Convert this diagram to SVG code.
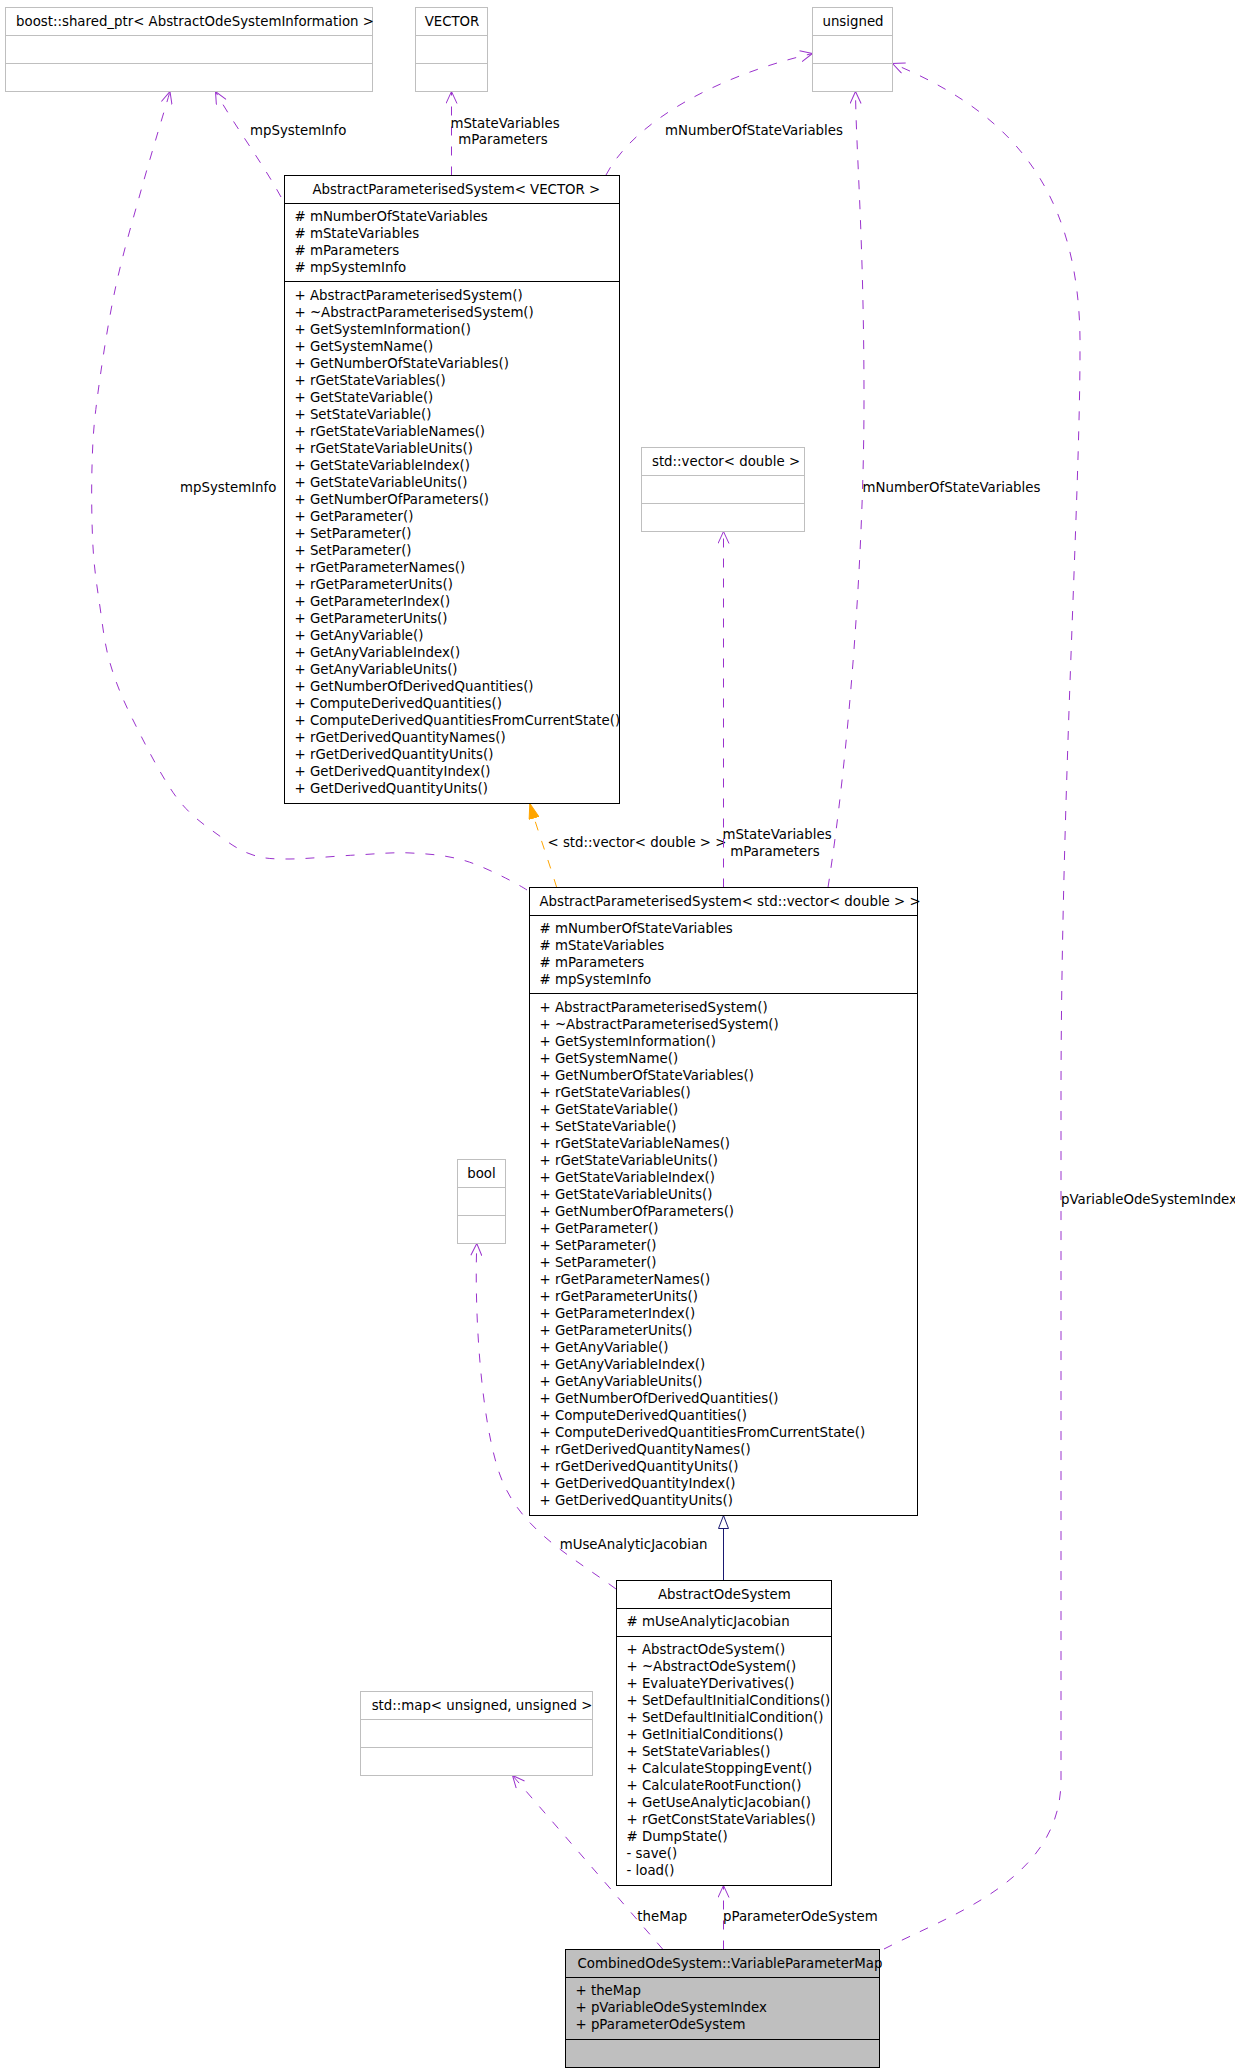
<svg xmlns="http://www.w3.org/2000/svg" width="1235" height="2072" viewBox="0 0 1235 2072">
<style>
.t{font-family:"DejaVu Sans","Liberation Sans",sans-serif;font-size:13.33px;fill:#000}
.m{text-anchor:middle}
.box{fill:#fff;stroke:#000;stroke-width:1}
.ext{fill:#fff;stroke:#bfbfbf;stroke-width:1}
.sel{fill:#bfbfbf;stroke:#000;stroke-width:1}
.dl{stroke:#000;stroke-width:1}
.de{stroke:#bfbfbf;stroke-width:1}
.dep{fill:none;stroke:#9a32cd;stroke-width:1;stroke-dasharray:9 11;marker-end:url(#open)}
.tpl{fill:none;stroke:#ffa500;stroke-width:1;stroke-dasharray:9 11;marker-end:url(#filled)}
.inh{fill:none;stroke:#191970;stroke-width:1;marker-end:url(#hollow)}
</style>
<defs>
<marker id="open" viewBox="0 0 13 12" refX="12.5" refY="6" markerWidth="13" markerHeight="12" markerUnits="userSpaceOnUse" orient="auto">
<path d="M0.5,0.5 L12.5,6 L0.5,11.5" fill="none" stroke="#9a32cd" stroke-width="1"/>
</marker>
<marker id="filled" viewBox="0 0 16 11" refX="15.5" refY="5.5" markerWidth="16" markerHeight="11" markerUnits="userSpaceOnUse" orient="auto">
<path d="M0.5,0.5 L15.5,5.5 L0.5,10.5 Z" fill="#ffa500" stroke="#ffa500" stroke-width="1"/>
</marker>
<marker id="hollow" viewBox="0 0 14 11" refX="13.5" refY="5.5" markerWidth="14" markerHeight="11" markerUnits="userSpaceOnUse" orient="auto">
<path d="M0.5,0.5 L13.5,5.5 L0.5,10.5 Z" fill="#fff" stroke="#191970" stroke-width="1"/>
</marker>
</defs>
<rect width="1235" height="2072" fill="#fff"/>

<g id="connectors">
<!-- APS<VECTOR> -> boost : mpSystemInfo -->
<path class="dep" d="M281,197 C262,162 232,122 215.5,91.5"/>
<text class="t" x="250" y="134.5">mpSystemInfo</text>
<!-- APS<vector<double>> -> boost : mpSystemInfo -->
<path class="dep" d="M527,890 C518.5,884.3 485.7,867 466,861 C446.3,855 429.3,854 411,853 C392.7,852 376.3,854 356,855 C335.7,856 306.2,859 289,859 C271.8,859 264.3,858.7 253,855 C241.7,851.3 233.7,846.5 221,837 C208.3,827.5 191.7,817.5 177,798 C162.3,778.5 144.2,742.5 133,720 C121.8,697.5 115.5,681.8 110,663 C104.5,644.2 102.8,626.3 100,607 C97.2,587.7 94.3,570.3 93,547 C91.7,523.7 91.3,491.5 92,467 C92.7,442.5 93.2,429.5 97,400 C100.8,370.5 107.5,325.5 115,290 C122.5,254.5 132.8,220 142,187 C151.2,154 165.3,107.8 170,91.5"/>
<text class="t" x="180" y="492">mpSystemInfo</text>
<!-- APS<VECTOR> -> VECTOR -->
<path class="dep" d="M451.5,175.5 L451.5,91.5"/>
<text class="t m" x="505" y="127.5">mStateVariables</text>
<text class="t m" x="503" y="144">mParameters</text>
<!-- APS<VECTOR> -> unsigned -->
<path class="dep" d="M606,175 C635,120 720,75 812.5,53.5"/>
<text class="t" x="665" y="135">mNumberOfStateVariables</text>
<!-- template instance -->
<path class="tpl" d="M556.7,887.5 C549,862 538,832 529.8,803.5"/>
<text class="t" x="547.5" y="846.5">&lt; std::vector&lt; double &gt; &gt;</text>
<!-- APS<vector<double>> -> std::vector<double> -->
<path class="dep" d="M723.5,887.5 L723.5,531.5"/>
<text class="t m" x="777" y="839">mStateVariables</text>
<text class="t m" x="775" y="856">mParameters</text>
<!-- APS<vector<double>> -> unsigned -->
<path class="dep" d="M828,887.5 C848,760 864,560 864,400 C864,240 856,150 855.5,91.5"/>
<text class="t" x="862.5" y="491.5">mNumberOfStateVariables</text>
<!-- AbstractOdeSystem -> bool -->
<path class="dep" d="M616,1589 C570,1555 520,1530 500,1475 C482,1425 474,1320 476.8,1243.5"/>
<text class="t" x="559.7" y="1549">mUseAnalyticJacobian</text>
<!-- inheritance AbstractOdeSystem -> APS<vector<double>> -->
<path class="inh" d="M723.5,1580.5 L723.5,1515.5"/>
<!-- VPM -> std::map -->
<path class="dep" d="M663,1949.5 L512.5,1775.5"/>
<text class="t" x="637.3" y="1920.5">theMap</text>
<!-- VPM -> AbstractOdeSystem -->
<path class="dep" d="M723.5,1949.5 L723.5,1885.5"/>
<text class="t" x="723" y="1920.5">pParameterOdeSystem</text>
<!-- VPM -> unsigned -->
<path class="dep" d="M884,1949 C950,1915 1061,1880 1061,1780 L1061,1100 C1061,800 1080,500 1080,350 C1082,180 1000,108 892.5,63.5"/>
<text class="t" x="1061" y="1204">pVariableOdeSystemIndex</text>
</g>

<g id="node-boost">
<rect class="ext" x="5.5" y="7.5" width="367" height="84"/>
<line class="de" x1="5.5" y1="35.5" x2="372.5" y2="35.5"/>
<line class="de" x1="5.5" y1="63.5" x2="372.5" y2="63.5"/>
<text class="t m" x="195" y="25.5">boost::shared_ptr&lt; AbstractOdeSystemInformation &gt;</text>
</g>

<g id="node-VECTOR">
<rect class="ext" x="415.5" y="7.5" width="72" height="84"/>
<line class="de" x1="415.5" y1="35.5" x2="487.5" y2="35.5"/>
<line class="de" x1="415.5" y1="63.5" x2="487.5" y2="63.5"/>
<text class="t m" x="452" y="25.5">VECTOR</text>
</g>

<g id="node-unsigned">
<rect class="ext" x="812.5" y="7.5" width="80" height="84"/>
<line class="de" x1="812.5" y1="35.5" x2="892.5" y2="35.5"/>
<line class="de" x1="812.5" y1="63.5" x2="892.5" y2="63.5"/>
<text class="t m" x="853" y="25.5">unsigned</text>
</g>

<g id="node-APS-VECTOR">
<rect class="box" x="284.5" y="175.5" width="335" height="628"/>
<line class="dl" x1="284.5" y1="203.5" x2="619.5" y2="203.5"/>
<line class="dl" x1="284.5" y1="281.5" x2="619.5" y2="281.5"/>
<text class="t m" x="456.3" y="193.5">AbstractParameterisedSystem&lt; VECTOR &gt;</text>
<text class="t" x="294.5" y="221">
<tspan x="294.5" y="221"># mNumberOfStateVariables</tspan>
<tspan x="294.5" y="238"># mStateVariables</tspan>
<tspan x="294.5" y="255"># mParameters</tspan>
<tspan x="294.5" y="272"># mpSystemInfo</tspan>
</text>
<text class="t" x="294.5" y="300">
<tspan x="294.5" y="300">+ AbstractParameterisedSystem()</tspan>
<tspan x="294.5" y="317">+ ~AbstractParameterisedSystem()</tspan>
<tspan x="294.5" y="334">+ GetSystemInformation()</tspan>
<tspan x="294.5" y="351">+ GetSystemName()</tspan>
<tspan x="294.5" y="368">+ GetNumberOfStateVariables()</tspan>
<tspan x="294.5" y="385">+ rGetStateVariables()</tspan>
<tspan x="294.5" y="402">+ GetStateVariable()</tspan>
<tspan x="294.5" y="419">+ SetStateVariable()</tspan>
<tspan x="294.5" y="436">+ rGetStateVariableNames()</tspan>
<tspan x="294.5" y="453">+ rGetStateVariableUnits()</tspan>
<tspan x="294.5" y="470">+ GetStateVariableIndex()</tspan>
<tspan x="294.5" y="487">+ GetStateVariableUnits()</tspan>
<tspan x="294.5" y="504">+ GetNumberOfParameters()</tspan>
<tspan x="294.5" y="521">+ GetParameter()</tspan>
<tspan x="294.5" y="538">+ SetParameter()</tspan>
<tspan x="294.5" y="555">+ SetParameter()</tspan>
<tspan x="294.5" y="572">+ rGetParameterNames()</tspan>
<tspan x="294.5" y="589">+ rGetParameterUnits()</tspan>
<tspan x="294.5" y="606">+ GetParameterIndex()</tspan>
<tspan x="294.5" y="623">+ GetParameterUnits()</tspan>
<tspan x="294.5" y="640">+ GetAnyVariable()</tspan>
<tspan x="294.5" y="657">+ GetAnyVariableIndex()</tspan>
<tspan x="294.5" y="674">+ GetAnyVariableUnits()</tspan>
<tspan x="294.5" y="691">+ GetNumberOfDerivedQuantities()</tspan>
<tspan x="294.5" y="708">+ ComputeDerivedQuantities()</tspan>
<tspan x="294.5" y="725">+ ComputeDerivedQuantitiesFromCurrentState()</tspan>
<tspan x="294.5" y="742">+ rGetDerivedQuantityNames()</tspan>
<tspan x="294.5" y="759">+ rGetDerivedQuantityUnits()</tspan>
<tspan x="294.5" y="776">+ GetDerivedQuantityIndex()</tspan>
<tspan x="294.5" y="793">+ GetDerivedQuantityUnits()</tspan>
</text>
</g>

<g id="node-std-vector-double">
<rect class="ext" x="641.5" y="447.5" width="163" height="84"/>
<line class="de" x1="641.5" y1="475.5" x2="804.5" y2="475.5"/>
<line class="de" x1="641.5" y1="503.5" x2="804.5" y2="503.5"/>
<text class="t m" x="726" y="465.5">std::vector&lt; double &gt;</text>
</g>

<g id="node-APS-vector-double">
<rect class="box" x="529.5" y="887.5" width="388" height="628"/>
<line class="dl" x1="529.5" y1="915.5" x2="917.5" y2="915.5"/>
<line class="dl" x1="529.5" y1="993.5" x2="917.5" y2="993.5"/>
<text class="t m" x="730" y="905.5">AbstractParameterisedSystem&lt; std::vector&lt; double &gt; &gt;</text>
<text class="t" x="539.5" y="933">
<tspan x="539.5" y="933"># mNumberOfStateVariables</tspan>
<tspan x="539.5" y="950"># mStateVariables</tspan>
<tspan x="539.5" y="967"># mParameters</tspan>
<tspan x="539.5" y="984"># mpSystemInfo</tspan>
</text>
<text class="t" x="539.5" y="1012">
<tspan x="539.5" y="1012">+ AbstractParameterisedSystem()</tspan>
<tspan x="539.5" y="1029">+ ~AbstractParameterisedSystem()</tspan>
<tspan x="539.5" y="1046">+ GetSystemInformation()</tspan>
<tspan x="539.5" y="1063">+ GetSystemName()</tspan>
<tspan x="539.5" y="1080">+ GetNumberOfStateVariables()</tspan>
<tspan x="539.5" y="1097">+ rGetStateVariables()</tspan>
<tspan x="539.5" y="1114">+ GetStateVariable()</tspan>
<tspan x="539.5" y="1131">+ SetStateVariable()</tspan>
<tspan x="539.5" y="1148">+ rGetStateVariableNames()</tspan>
<tspan x="539.5" y="1165">+ rGetStateVariableUnits()</tspan>
<tspan x="539.5" y="1182">+ GetStateVariableIndex()</tspan>
<tspan x="539.5" y="1199">+ GetStateVariableUnits()</tspan>
<tspan x="539.5" y="1216">+ GetNumberOfParameters()</tspan>
<tspan x="539.5" y="1233">+ GetParameter()</tspan>
<tspan x="539.5" y="1250">+ SetParameter()</tspan>
<tspan x="539.5" y="1267">+ SetParameter()</tspan>
<tspan x="539.5" y="1284">+ rGetParameterNames()</tspan>
<tspan x="539.5" y="1301">+ rGetParameterUnits()</tspan>
<tspan x="539.5" y="1318">+ GetParameterIndex()</tspan>
<tspan x="539.5" y="1335">+ GetParameterUnits()</tspan>
<tspan x="539.5" y="1352">+ GetAnyVariable()</tspan>
<tspan x="539.5" y="1369">+ GetAnyVariableIndex()</tspan>
<tspan x="539.5" y="1386">+ GetAnyVariableUnits()</tspan>
<tspan x="539.5" y="1403">+ GetNumberOfDerivedQuantities()</tspan>
<tspan x="539.5" y="1420">+ ComputeDerivedQuantities()</tspan>
<tspan x="539.5" y="1437">+ ComputeDerivedQuantitiesFromCurrentState()</tspan>
<tspan x="539.5" y="1454">+ rGetDerivedQuantityNames()</tspan>
<tspan x="539.5" y="1471">+ rGetDerivedQuantityUnits()</tspan>
<tspan x="539.5" y="1488">+ GetDerivedQuantityIndex()</tspan>
<tspan x="539.5" y="1505">+ GetDerivedQuantityUnits()</tspan>
</text>
</g>

<g id="node-bool">
<rect class="ext" x="457.5" y="1159.5" width="48" height="84"/>
<line class="de" x1="457.5" y1="1187.5" x2="505.5" y2="1187.5"/>
<line class="de" x1="457.5" y1="1215.5" x2="505.5" y2="1215.5"/>
<text class="t m" x="481.5" y="1177.5">bool</text>
</g>

<g id="node-AbstractOdeSystem">
<rect class="box" x="616.5" y="1580.5" width="215" height="305"/>
<line class="dl" x1="616.5" y1="1608.5" x2="831.5" y2="1608.5"/>
<line class="dl" x1="616.5" y1="1636.5" x2="831.5" y2="1636.5"/>
<text class="t m" x="724.3" y="1598.5">AbstractOdeSystem</text>
<text class="t" x="626.5" y="1626"># mUseAnalyticJacobian</text>
<text class="t" x="626.5" y="1654">
<tspan x="626.5" y="1654">+ AbstractOdeSystem()</tspan>
<tspan x="626.5" y="1671">+ ~AbstractOdeSystem()</tspan>
<tspan x="626.5" y="1688">+ EvaluateYDerivatives()</tspan>
<tspan x="626.5" y="1705">+ SetDefaultInitialConditions()</tspan>
<tspan x="626.5" y="1722">+ SetDefaultInitialCondition()</tspan>
<tspan x="626.5" y="1739">+ GetInitialConditions()</tspan>
<tspan x="626.5" y="1756">+ SetStateVariables()</tspan>
<tspan x="626.5" y="1773">+ CalculateStoppingEvent()</tspan>
<tspan x="626.5" y="1790">+ CalculateRootFunction()</tspan>
<tspan x="626.5" y="1807">+ GetUseAnalyticJacobian()</tspan>
<tspan x="626.5" y="1824">+ rGetConstStateVariables()</tspan>
<tspan x="626.5" y="1841"># DumpState()</tspan>
<tspan x="626.5" y="1858">- save()</tspan>
<tspan x="626.5" y="1875">- load()</tspan>
</text>
</g>

<g id="node-std-map">
<rect class="ext" x="360.5" y="1691.5" width="232" height="84"/>
<line class="de" x1="360.5" y1="1719.5" x2="592.5" y2="1719.5"/>
<line class="de" x1="360.5" y1="1747.5" x2="592.5" y2="1747.5"/>
<text class="t m" x="482" y="1709.5">std::map&lt; unsigned, unsigned &gt;</text>
</g>

<g id="node-VariableParameterMap">
<rect class="sel" x="565.5" y="1949.5" width="314" height="118"/>
<line class="dl" x1="565.5" y1="1977.5" x2="879.5" y2="1977.5"/>
<line class="dl" x1="565.5" y1="2039.5" x2="879.5" y2="2039.5"/>
<text class="t m" x="730" y="1967.5">CombinedOdeSystem::VariableParameterMap</text>
<text class="t" x="575.5" y="1994.5">
<tspan x="575.5" y="1994.5">+ theMap</tspan>
<tspan x="575.5" y="2011.5">+ pVariableOdeSystemIndex</tspan>
<tspan x="575.5" y="2028.5">+ pParameterOdeSystem</tspan>
</text>
</g>
</svg>
